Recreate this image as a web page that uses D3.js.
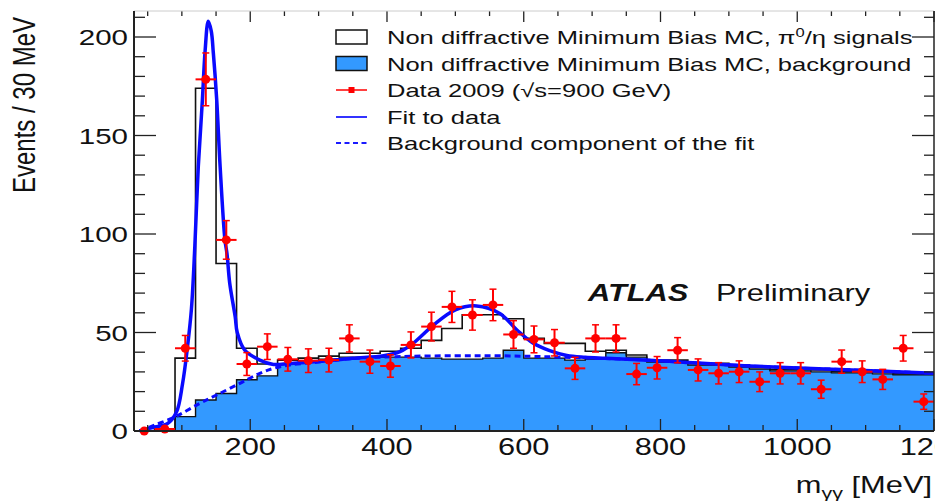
<!DOCTYPE html>
<html>
<head>
<meta charset="utf-8">
<script src="https://cdn.jsdelivr.net/npm/d3@7"></script>
<style>
body { margin: 0; background: white; }
text { font-family: "Liberation Sans", Arial, Helvetica, sans-serif; fill: #111; }
</style>
</head>
<body>
<div class="chart"></div>
<script>
// bin centres (30 MeV bins from 30 to 1200 MeV)
var binCenters = [45, 75, 105, 135, 165, 195, 225, 255, 285, 315, 345, 375, 405,
    435, 465, 495, 525, 555, 585, 615, 645, 675, 705, 735, 765, 795, 825, 855,
    885, 915, 945, 975, 1005, 1035, 1065, 1095, 1125, 1155, 1185];

// MC signal + background (black outline)
var mcTotal = [0, 1, 37, 174, 85, 42, 34, 36, 37, 38, 39.5, 39.5, 40.5,
    42, 46, 52, 59, 59, 57, 47, 44.5, 44.5, 40.5, 41, 38.6, 36, 36, 34.4,
    34.4, 33.5, 32.5, 31.3, 31.3, 31, 30.1, 30.1, 30, 29, 29];

// MC background only (blue fill)
var mcBackground = [0, 0, 7.3, 15.7, 19, 26, 28, 34, 35, 36.5, 37.5, 37.5, 37.5,
    37.5, 37, 36.5, 36.5, 37, 41, 37, 37, 36, 36.5, 39.7, 37.5, 35, 35, 33.5,
    33.5, 32.5, 31.5, 30.5, 30.5, 30, 29.5, 29.5, 29, 28.5, 28.5];

// data 2009 and its errors
var dataValues = [0, 1, 42, 178.5, 97, 34, 42.8, 36.4, 35.7, 36, 47, 35.2, 33,
    43.7, 53, 63, 58.9, 64, 49, 46.5, 44.8, 31.8, 47, 47, 28.9, 32.1, 41, 31,
    29.3, 30.1, 25, 29.3, 29.3, 21.2, 35.2, 30.1, 26.2, 42, 14.9];
var dataErrors = [0, 1, 6.5, 13.4, 9.8, 5.8, 6.5, 6, 6, 6, 6.9, 5.9, 5.7,
    6.6, 7.3, 7.9, 7.7, 8, 7, 6.8, 6.7, 5.6, 6.9, 6.9, 5.4, 5.7, 6.4, 5.6,
    5.4, 5.5, 5, 5.4, 5.4, 4.6, 5.9, 5.5, 5.1, 6.5, 3.9];

// fit to data
var fitMass = [38, 60, 78, 92, 101, 108, 114, 119, 124, 130, 134, 138.6, 143,
    146, 151, 156, 163, 166, 170, 178, 181, 192, 214, 234, 258, 300, 350, 395,
    419, 438, 468, 500, 531, 565, 590, 614, 638, 663, 690, 720, 790, 930, 1080, 1200];
var fitValues = [0, 2, 3.5, 9.5, 24, 42, 62, 94, 134, 168, 193, 208, 203,
    192, 168, 134, 97, 90, 75, 58, 50, 41, 36, 33.8, 34.3, 35.3, 36.9, 38.2,
    40.3, 44.5, 53.8, 61.5, 63.5, 59.7, 51.3, 44.5, 40.8, 38.3, 37.4, 36.9, 35.8, 33, 31, 29.3];

// background component of the fit
var bgMass = [38, 60, 92, 126, 151, 185, 214, 234, 258, 300, 350, 420, 500,
    560, 620, 700, 790, 930, 1080, 1200];
var bgValues = [0, 3, 7.5, 14, 18.3, 24.2, 29.3, 31.8, 33.5, 35, 36.8, 37.8, 38.2,
    38.2, 37.8, 37, 35.8, 33, 31, 29.3];

var yTicks = [0, 50, 100, 150, 200];
var xTicks = [200, 400, 600, 800, 1000, 1200];

var width = 935, height = 501;
var sx = 1.34; // glyphs in the picture are wider than tall

var svg = d3.select(".chart").append("svg")
    .attr("width", width)
    .attr("height", height)

var x = d3.scaleLinear().domain([30, 1200]).range([134, 934]);
var y = d3.scaleLinear().domain([0, 213.2]).range([431, 11]);

var binWidth = 30;
var bins = binCenters.map(function(c, i) {
    return {lo: c - binWidth / 2, hi: c + binWidth / 2, c: c,
        total: mcTotal[i], bg: mcBackground[i], v: dataValues[i], e: dataErrors[i]};
});
function stepPoints(key) {
    var pts = bins.map(function(b) { return [b.lo, b[key]]; });
    pts.push([bins[bins.length - 1].hi, bins[bins.length - 1][key]]);
    return pts;
}

var stepLine = d3.line()
    .curve(d3.curveStepAfter)
    .x(function(d) { return x(d[0]); })
    .y(function(d) { return y(d[1]); });

var stepArea = d3.area()
    .curve(d3.curveStepAfter)
    .x(function(d) { return x(d[0]); })
    .y0(y(0))
    .y1(function(d) { return y(d[1]); });

// blue background fill
svg.append("path")
    .datum(stepPoints("bg"))
    .attr("d", stepArea)
    .attr("fill", "#3399ff");

// black outlines
svg.append("path")
    .datum(stepPoints("total"))
    .attr("d", stepLine)
    .attr("fill", "none")
    .attr("stroke", "#111")
    .style("stroke-width", 1.6);

svg.append("path")
    .datum(stepPoints("bg"))
    .attr("d", stepLine)
    .attr("fill", "none")
    .attr("stroke", "#111")
    .style("stroke-width", 1.4);

// fits
var curve = d3.line()
    .curve(d3.curveCatmullRom.alpha(0.5))
    .x(function(d) { return x(d[0]); })
    .y(function(d) { return y(d[1]); });

svg.append("path")
    .datum(bgMass.map(function(m, i) { return [m, bgValues[i]]; }))
    .attr("d", curve)
    .attr("fill", "none")
    .attr("stroke", "#0a0aff")
    .attr("stroke-dasharray", "6,4")
    .style("stroke-width", 3);

svg.append("path")
    .datum(fitMass.map(function(m, i) { return [m, fitValues[i]]; }))
    .attr("d", curve)
    .attr("fill", "none")
    .attr("stroke", "#0a0aff")
    .style("stroke-width", 3.5);

// data points
var red = "#ff0000";
var pt = svg.selectAll(".dataPoint")
    .data(bins)
    .enter().append("g")
    .attr("class", "dataPoint");

pt.append("line")
    .attr("x1", function(d) { return x(d.lo); })
    .attr("x2", function(d) { return x(d.hi); })
    .attr("y1", function(d) { return y(d.v); })
    .attr("y2", function(d) { return y(d.v); })
    .attr("stroke", red)
    .style("stroke-width", 2);

pt.filter(function(d) { return d.e > 0; }).append("line")
    .attr("x1", function(d) { return x(d.c); })
    .attr("x2", function(d) { return x(d.c); })
    .attr("y1", function(d) { return y(d.v - d.e); })
    .attr("y2", function(d) { return y(d.v + d.e); })
    .attr("stroke", red)
    .style("stroke-width", 2);

pt.filter(function(d) { return d.e > 1; }).selectAll(".cap")
    .data(function(d) { return [[d.c, d.v - d.e], [d.c, d.v + d.e]]; })
    .enter().append("line")
    .attr("x1", function(d) { return x(d[0]) - 3.5; })
    .attr("x2", function(d) { return x(d[0]) + 3.5; })
    .attr("y1", function(d) { return y(d[1]); })
    .attr("y2", function(d) { return y(d[1]); })
    .attr("stroke", red)
    .style("stroke-width", 1.5);

pt.append("circle")
    .attr("cx", function(d) { return x(d.c); })
    .attr("cy", function(d) { return y(d.v); })
    .attr("r", 4.5)
    .attr("fill", red);

// frame and ticks
var ink = "#222";
function drawTicks(values, len, side) {
    values.forEach(function(v) {
        var l = svg.append("line").attr("stroke", ink).style("stroke-width", 1.3);
        if (side == "left") l.attr("x1", x(30)).attr("x2", x(30) + len).attr("y1", y(v)).attr("y2", y(v));
        if (side == "right") l.attr("x1", x(1200)).attr("x2", x(1200) - len).attr("y1", y(v)).attr("y2", y(v));
        if (side == "bottom") l.attr("x1", x(v)).attr("x2", x(v)).attr("y1", y(0)).attr("y2", y(0) - len);
        if (side == "top") l.attr("x1", x(v)).attr("x2", x(v)).attr("y1", y.range()[1]).attr("y2", y.range()[1] + len);
    });
}
var yMinor = d3.range(10, 211, 10).filter(function(v) { return v % 50 != 0; });
var xMinor = d3.range(50, 1200, 50).filter(function(v) { return v % 200 != 0; });
drawTicks(yTicks, 22, "left");
drawTicks(yMinor, 11, "left");
drawTicks(yTicks, 22, "right");
drawTicks(yMinor, 10, "right");
drawTicks(xTicks, 12, "bottom");
drawTicks(xMinor, 6, "bottom");
drawTicks(xTicks, 11, "top");
drawTicks(xMinor, 5, "top");

svg.append("line").attr("x1", x(30)).attr("x2", x(1200)).attr("y1", y.range()[1]).attr("y2", y.range()[1])
    .attr("stroke", "#ccc").style("stroke-width", 1);
svg.append("line").attr("x1", x(30)).attr("x2", x(30)).attr("y1", y.range()[1]).attr("y2", y(0))
    .attr("stroke", ink).style("stroke-width", 2);
svg.append("line").attr("x1", x(1200)).attr("x2", x(1200)).attr("y1", y.range()[1]).attr("y2", y(0))
    .attr("stroke", ink).style("stroke-width", 1.5);
svg.append("line").attr("x1", x(30)).attr("x2", x(1200)).attr("y1", y(0)).attr("y2", y(0))
    .attr("stroke", ink).style("stroke-width", 2);

// tick labels
svg.selectAll(".yLabel")
    .data(yTicks)
    .enter().append("text")
    .attr("class", "yLabel")
    .attr("transform", function(d) { return "translate(128," + (y(d) + 8) + ") scale(" + sx + ",1)"; })
    .style("text-anchor", "end")
    .style("font-size", "22px")
    .text(function(d) { return d; });

svg.selectAll(".xLabel")
    .data(xTicks)
    .enter().append("text")
    .attr("class", "xLabel")
    .attr("transform", function(d) { return "translate(" + x(d) + ",455) scale(" + sx + ",1)"; })
    .style("text-anchor", "middle")
    .style("font-size", "23px")
    .text(function(d) { return d; });

// axis titles
svg.append("text")
    .attr("transform", "translate(35,105) scale(" + sx + ",1) rotate(-90)")
    .style("text-anchor", "middle")
    .style("font-size", "24px")
    .text("Events /  30 MeV");

var xt = svg.append("text")
    .attr("transform", "translate(932,493) scale(" + sx + ",1)")
    .style("text-anchor", "end")
    .style("font-size", "23px");
xt.append("tspan").text("m");
xt.append("tspan").attr("dy", 6).style("font-size", "16px").text("γγ");
xt.append("tspan").attr("dy", -6).text(" [MeV]");

// ATLAS label
svg.append("text")
    .attr("transform", "translate(588,301) scale(" + sx + ",1)")
    .style("font-size", "23px")
    .style("font-weight", "bold")
    .style("font-style", "italic")
    .text("ATLAS");
svg.append("text")
    .attr("transform", "translate(716,301) scale(" + sx + ",1)")
    .style("font-size", "23px")
    .text("Preliminary");

// legend
var legendY = [37, 63.5, 90, 117, 143];
var legendX = 336, legendW = 31, textX = 387, lsx = 1.38;

svg.append("rect").attr("x", legendX).attr("y", legendY[0] - 7).attr("width", legendW).attr("height", 14)
    .attr("fill", "white").attr("stroke", "#111").style("stroke-width", 1.5);
svg.append("rect").attr("x", legendX).attr("y", legendY[1] - 7).attr("width", legendW).attr("height", 14)
    .attr("fill", "#3399ff").attr("stroke", "#111").style("stroke-width", 1.5);
svg.append("line").attr("x1", legendX).attr("x2", legendX + legendW).attr("y1", legendY[2]).attr("y2", legendY[2])
    .attr("stroke", red).style("stroke-width", 1.5);
svg.append("rect").attr("x", legendX + legendW / 2 - 3).attr("y", legendY[2] - 3).attr("width", 6).attr("height", 6)
    .attr("fill", red);
svg.append("line").attr("x1", legendX).attr("x2", legendX + legendW).attr("y1", legendY[3]).attr("y2", legendY[3])
    .attr("stroke", "#3333ff").style("stroke-width", 2);
svg.append("line").attr("x1", legendX).attr("x2", legendX + legendW).attr("y1", legendY[4]).attr("y2", legendY[4])
    .attr("stroke", "#1a1aff").attr("stroke-dasharray", "5,3.5").style("stroke-width", 2);

function legendText(i) {
    return svg.append("text")
        .attr("transform", "translate(" + textX + "," + (legendY[i] + 7) + ") scale(" + lsx + ",1)")
        .style("font-size", "18.5px");
}
var t0 = legendText(0);
t0.append("tspan").text("Non diffractive Minimum Bias MC, π");
t0.append("tspan").attr("dy", -7).style("font-size", "12px").text("0");
t0.append("tspan").attr("dy", 7).text("/η signals");
legendText(1).text("Non diffractive Minimum Bias MC, background");
legendText(2).text("Data 2009 (√s=900 GeV)");
legendText(3).text("Fit to data");
legendText(4).text("Background component of the fit");
</script>
</body>
</html>
